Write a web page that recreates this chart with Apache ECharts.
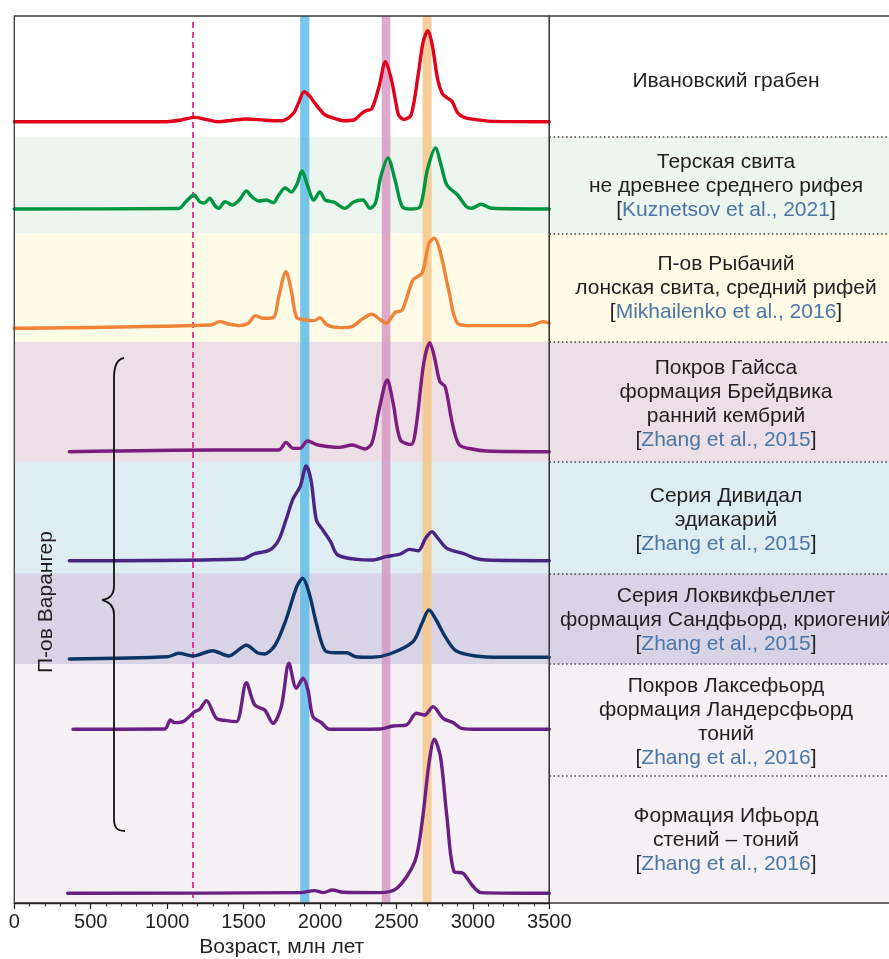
<!DOCTYPE html>
<html><head><meta charset="utf-8">
<script src="https://cdn.jsdelivr.net/npm/echarts@6/dist/echarts.min.js"></script>
<style>html,body{margin:0;padding:0;background:#fff}#c{width:889px;height:959px}</style>
</head><body><div id="c"></div>
<script>
// ---------------- DATA (age in Ma, relative probability density) ----------------
const ivanovskyGraben = [[0,0],[1000,0],[1100,2],[1180,4.3],[1260,2],[1332,0],[1430,1.5],[1519,2.7],[1640,1.5],[1753,1],[1824,8],[1860,19],[1896,30],[1930,26],[1964,19],[2000,12],[2034,6.7],[2100,3],[2151,1],[2222,1.7],[2268,7.7],[2300,11],[2339,13],[2386,35],[2428,60],[2467,42],[2500,16],[2514,6.7],[2549,2.3],[2596,6.7],[2643,48],[2675,80],[2706,91],[2735,76],[2770,42],[2800,28],[2830,24],[2865,20],[2900,9],[2947,4],[3041,1.7],[3135,0.3],[3500,0]];
const terskayaSvita = [[0,0],[1075,0.5],[1121,7],[1175,14],[1215,7],[1243,6],[1278,10.7],[1309,4],[1337,0.7],[1379,7.3],[1426,4],[1472,9],[1519,18],[1554,12.3],[1601,8],[1648,9],[1695,6.3],[1730,14],[1772,21],[1812,17],[1847,24],[1882,38],[1917,24],[1959,9],[1999,17],[2034,9],[2093,6.7],[2163,0.7],[2222,7.3],[2280,9],[2327,0.7],[2362,5.7],[2397,32],[2444,51],[2491,29],[2538,2.3],[2596,0],[2655,2.3],[2702,39],[2755,61],[2795,42],[2830,24],[2900,14],[2959,2.3],[2994,0.7],[3053,4.7],[3123,0.7],[3500,0]];
const rybachyPeninsula = [[0,0],[1285,3.3],[1344,6.7],[1402,4.3],[1472,2.7],[1531,5],[1578,12.7],[1625,10],[1695,10.7],[1730,31.7],[1777,56.7],[1812,38],[1847,11],[1905,8.3],[1964,7.7],[1999,10.7],[2046,3.3],[2128,0.7],[2210,1.7],[2268,8.3],[2339,14],[2397,8.3],[2432,5],[2491,15.7],[2538,18.3],[2608,48.3],[2667,55],[2713,85],[2748,90],[2784,78],[2842,38],[2900,5],[2994,2.7],[3369,2.7],[3463,6.7],[3500,5]];
const gaissaNappe = [[360,0],[1309,1.7],[1730,1.7],[1777,9.3],[1824,3.3],[1870,3.3],[1917,10.7],[1987,6.7],[2128,4.3],[2210,6.7],[2292,2.7],[2339,8.3],[2386,41.7],[2440,71.7],[2479,48],[2526,11.7],[2596,7.3],[2631,28],[2678,88],[2718,109],[2748,95],[2784,70],[2819,65],[2866,28],[2912,6.7],[2994,2.7],[3088,0.7],[3500,0]];
const dividalGroup = [[360,0],[1496,1.7],[1566,6.7],[1671,10.7],[1730,20.7],[1777,40.7],[1824,62],[1870,74],[1910,94.7],[1941,80.7],[1976,40.7],[2011,32.3],[2069,19],[2116,5.7],[2245,1.3],[2339,0.7],[2432,4],[2526,6.7],[2584,11.3],[2643,10],[2690,22.3],[2732,29],[2772,22.3],[2830,12.3],[2947,6.7],[3018,2.3],[3088,0.7],[3500,0]];
const lokvikfjelletGroup = [[360,0],[1004,2.3],[1075,5.7],[1168,3],[1297,8.3],[1402,3],[1519,13.7],[1590,6.3],[1636,5],[1707,14],[1777,39],[1847,72],[1887,80.7],[1929,65.7],[1976,35.7],[2034,8.3],[2104,6.3],[2175,6.3],[2233,2.3],[2339,1.7],[2456,5],[2608,17.3],[2667,35.7],[2713,49],[2760,39],[2819,22.3],[2889,8.3],[3018,3],[3182,1.7],[3500,1.7]];
const laksefjordNappe = [[384,0],[984,0.3],[1021,9.3],[1049,6.7],[1104,7.7],[1180,17.7],[1213,20],[1257,28.7],[1322,11],[1388,8.7],[1453,7.7],[1518,46.7],[1573,24.3],[1638,19.3],[1693,6],[1747,22.7],[1797,66],[1845,41],[1889,51],[1921,39.3],[1954,12.7],[2009,6.7],[2063,0],[2390,0.3],[2477,3.3],[2565,4.3],[2630,16],[2685,14.3],[2739,22.7],[2805,11],[2870,6.7],[2925,1],[3045,0],[3500,0]];
const ifjordFormation = [[349,0],[1870,0.7],[1964,2.7],[2023,0.7],[2081,3.3],[2151,1],[2386,0.7],[2503,5],[2620,31.7],[2667,70],[2713,130],[2748,154],[2788,136.7],[2830,76.7],[2877,21.7],[2936,20],[2994,8.3],[3053,0.7],[3500,0]];

const seriesNames = ['Ивановский грабен','Терская свита','П-ов Рыбачий','Покров Гайсса','Серия Дивидал','Серия Локвикфьеллет','Покров Лаксефьорд','Формация Ифьорд'];
const sampleTitles = [
  ['Ивановский грабен'],
  ['Терская свита','не древнее среднего рифея'],
  ['П-ов Рыбачий','лонская свита, средний рифей'],
  ['Покров Гайсса','формация Брейдвика','ранний кембрий'],
  ['Серия Дивидал','эдиакарий'],
  ['Серия Локвикфьеллет','формация Сандфьорд, криогений'],
  ['Покров Лаксефьорд','формация Ландерсфьорд','тоний'],
  ['Формация Ифьорд','стений – тоний']
];
const sampleReferences = [null,'Kuznetsov et al., 2021','Mikhailenko et al., 2016','Zhang et al., 2015','Zhang et al., 2015','Zhang et al., 2015','Zhang et al., 2016','Zhang et al., 2016'];
const dashedLineAge = [1170];
const blueBandAges = [1870,1930];
const pinkBandAges = [2404,2460];
const orangeBandAges = [2671,2730];
const groupLabel = ['П-ов Варангер'];
const axisTitle = ['Возраст, млн лет'];

// ---------------- LAYOUT / STYLE ----------------
const PLOT_TOP = 16, PLOT_BOTTOM = 903, PLOT_LEFT = 14.3, PLOT_RIGHT = 549.3;
const Y_MAX = PLOT_BOTTOM - PLOT_TOP;
const toY = py => PLOT_BOTTOM - py;
const baselinePx = [121.7, 209, 328.3, 451.7, 560.7, 659, 729.3, 893.3];
const lineColors = ['#e3001b','#009640','#f0833a','#7d1d7f','#4b2484','#0b3566','#6a1f84','#6a1f84'];
const rowBoundsPx = [[136.7,233.3],[233.3,341.7],[341.7,461.7],[461.7,573.3],[573.3,664],[664,903]];
const rowColors = ['#edf5ef','#fefbe6','#ecdfe6','#ddedf1','#d8d4e6','#f5f0f3'];
const separatorsPx = [136.7,233.3,341.7,461.7,573.3,664,776];
const labelCentersPx = [81,186.7,288.3,404.2,520,620.7,722.2,840.7];
const LABEL_X = 726, LINE_H = 24, LABEL_FS = 21;
const FONT = '"Liberation Sans", Arial, Helvetica, sans-serif';
const TEXT_COLOR = '#231f20', REF_COLOR = '#4a76a8';

const curves = [ivanovskyGraben, terskayaSvita, rybachyPeninsula, gaissaNappe, dividalGroup, lokvikfjelletGroup, laksefjordNappe, ifjordFormation];

const chart = echarts.init(document.getElementById('c'), null, {renderer:'canvas'});

const bgAreas = rowBoundsPx.map((b, i) => [{yAxis: toY(b[0]), itemStyle:{color: rowColors[i], opacity:1}}, {yAxis: toY(b[1])}]);

const series = [];
series.push({type:'line', xAxisIndex:0, yAxisIndex:0, data:[], silent:true, z:1,
  markArea:{silent:true, data:bgAreas}});
series.push({type:'line', xAxisIndex:1, yAxisIndex:1, data:[], silent:true, z:1,
  markArea:{silent:true, data:bgAreas},
  markLine:{silent:true, symbol:'none', label:{show:false},
    lineStyle:{type:[1.6,2.6], color:'#444', width:1.6},
    data: separatorsPx.map(p => ({yAxis: toY(p)}))}});
series.push({type:'line', xAxisIndex:0, yAxisIndex:0, data:[], silent:true, z:2,
  markArea:{silent:true, data:[
    [{xAxis:blueBandAges[0], itemStyle:{color:'rgba(95,188,232,0.85)'}},{xAxis:blueBandAges[1]}],
    [{xAxis:pinkBandAges[0], itemStyle:{color:'rgba(214,148,192,0.8)'}},{xAxis:pinkBandAges[1]}],
    [{xAxis:orangeBandAges[0], itemStyle:{color:'rgba(246,197,135,0.85)'}},{xAxis:orangeBandAges[1]}]
  ]},
  markLine:{silent:true, symbol:'none', label:{show:false},
    lineStyle:{type:[6,4], color:'#e5007e', width:1.5},
    data:[[{coord:[dashedLineAge[0], toY(22)]},{coord:[dashedLineAge[0], 0]}]]}});

curves.forEach((c, i) => {
  const base = toY(baselinePx[i]);
  series.push({type:'line', name:seriesNames[i], xAxisIndex:0, yAxisIndex:0, z:5,
    data: c.map(p => [p[0], base + p[1]]),
    smooth:0.3, showSymbol:false, symbol:'none', silent:true,
    lineStyle:{color:lineColors[i], width:3.4, cap:'round', join:'round'}});
});

const graphics = [];
sampleTitles.forEach((lines, i) => {
  const all = lines.slice();
  if (sampleReferences[i]) all.push('[{r|' + sampleReferences[i] + '}]');
  const n = all.length;
  all.forEach((t, j) => {
    graphics.push({type:'text', x:LABEL_X, y: labelCentersPx[i] + (j - (n-1)/2) * LINE_H, z:20,
      style:{text:t, fill:TEXT_COLOR, fontSize:LABEL_FS, fontFamily:FONT, align:'center', verticalAlign:'middle',
        rich:{r:{fill:REF_COLOR, fontSize:LABEL_FS, fontFamily:FONT}}}});
  });
});
graphics.push({type:'text', x:46, y:602, rotation:Math.PI/2, z:20,
  style:{text:groupLabel[0], fill:TEXT_COLOR, fontSize:LABEL_FS, fontFamily:FONT, align:'center', verticalAlign:'middle'}});
const braceStyle = {fill:'none', stroke:'#111', lineWidth:1.8};
graphics.push({type:'bezierCurve', z:20, shape:{x1:124,y1:358,cpx1:117,cpy1:359,cpx2:114,cpy2:365,x2:114,y2:378}, style:braceStyle});
graphics.push({type:'line', z:20, shape:{x1:114,y1:378,x2:114,y2:586}, style:braceStyle});
graphics.push({type:'bezierCurve', z:20, shape:{x1:114,y1:586,cpx1:114,cpy1:595,cpx2:110,cpy2:599,x2:102,y2:600}, style:braceStyle});
graphics.push({type:'bezierCurve', z:20, shape:{x1:102,y1:600,cpx1:110,cpy1:602,cpx2:114,cpy2:606,x2:114,y2:614}, style:braceStyle});
graphics.push({type:'line', z:20, shape:{x1:114,y1:614,x2:114,y2:818}, style:braceStyle});
graphics.push({type:'bezierCurve', z:20, shape:{x1:114,y1:818,cpx1:114,cpy1:828,cpx2:117,cpy2:831,x2:125,y2:831}, style:braceStyle});

chart.setOption({
  animation:false,
  backgroundColor:'#fff',
  grid:[
    {left:PLOT_LEFT, top:PLOT_TOP, width:PLOT_RIGHT-PLOT_LEFT, height:Y_MAX, show:true, borderColor:'#3a3a3a', borderWidth:1.3, backgroundColor:'transparent', z:10, outerBoundsMode:'none', containLabel:false},
    {left:PLOT_RIGHT, top:PLOT_TOP, width:889-PLOT_RIGHT+4, height:Y_MAX, show:true, borderColor:'#3a3a3a', borderWidth:1.3, backgroundColor:'transparent', z:10, outerBoundsMode:'none', containLabel:false}
  ],
  xAxis:[
    {type:'value', gridIndex:0, min:0, max:3500, interval:500, z:11,
      axisLine:{show:true, lineStyle:{color:'#231f20', width:1.3}},
      axisTick:{show:true, length:6, lineStyle:{color:'#231f20', width:1.2}},
      minorTick:{show:true, splitNumber:5, length:3.5, lineStyle:{color:'#231f20', width:1}},
      splitLine:{show:false},
      axisLabel:{fontSize:20, fontFamily:FONT, color:TEXT_COLOR, margin:9, formatter: v => String(v)},
      name:axisTitle[0], nameLocation:'middle', nameGap:34,
      nameTextStyle:{fontSize:21, fontFamily:FONT, color:TEXT_COLOR}},
    {type:'value', gridIndex:1, min:0, max:1, show:false}
  ],
  yAxis:[
    {type:'value', gridIndex:0, min:0, max:Y_MAX, show:false},
    {type:'value', gridIndex:1, min:0, max:Y_MAX, show:false}
  ],
  series:series,
  graphic:graphics
});
</script></body></html>
